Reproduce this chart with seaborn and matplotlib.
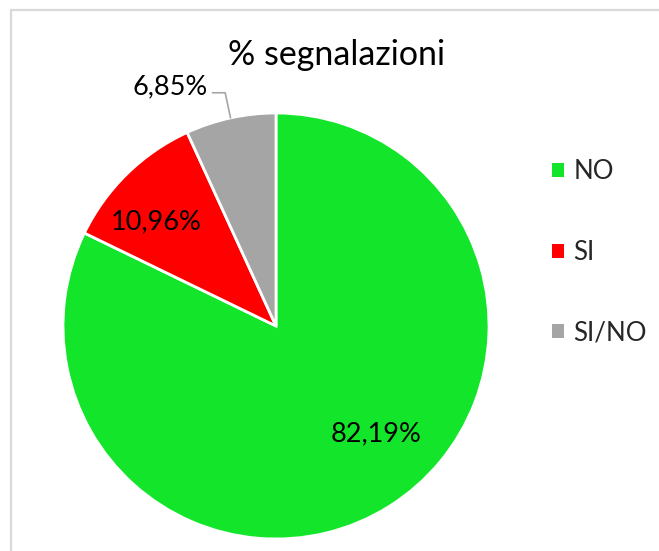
import numpy as np
import matplotlib
matplotlib.use("Agg")
import matplotlib.pyplot as plt
import matplotlib.patches as mpatches
from matplotlib.lines import Line2D
import seaborn as sns

categories = ["NO", "SI", "SI/NO"]
values = [82.19, 10.96, 6.85]
value_labels = ["82,19%", "10,96%", "6,85%"]
colors = ["#12E52A", "#FF0000", "#A5A5A5"]
title = "% segnalazioni"

sns.set_theme(style="white")
plt.rcParams["font.family"] = ["Lato", "DejaVu Sans"]

W, H = 659, 551
fig = plt.figure(figsize=(W / 100, H / 100), dpi=100)
fig.patch.set_facecolor("white")

# chart-area frame (top and left edges visible)
fig.add_artist(Line2D([11 / W, 11 / W], [0, 1 - 10 / H], transform=fig.transFigure,
                      color="#D9D9D9", lw=1.6))
fig.add_artist(Line2D([11 / W, 1], [1 - 10 / H, 1 - 10 / H], transform=fig.transFigure,
                      color="#D9D9D9", lw=1.6))

# pie axes: center (276, 326) px, radius 213 px
cx, cy, r = 276, 326, 213
ax = fig.add_axes([(cx - r) / W, (H - cy - r) / H, 2 * r / W, 2 * r / H])
wedges, _ = ax.pie(values, colors=colors, startangle=90, counterclock=False,
                   radius=1.0, wedgeprops=dict(edgecolor="white", linewidth=2))
ax.set_xlim(-1, 1)
ax.set_ylim(-1, 1)
ax.set_aspect("equal")
ax.axis("off")

# data labels
label_fs = 19.5
ax.text(np.cos(np.radians(-47)) * 0.69, np.sin(np.radians(-47)) * 0.69, value_labels[0],
        ha="center", va="center", fontsize=label_fs, color="black")
ax.text(np.cos(np.radians(139)) * 0.745, np.sin(np.radians(139)) * 0.745, value_labels[1],
        ha="center", va="center", fontsize=label_fs, color="black")

# outside label with leader line for the small slice
w = wedges[2]
mid = np.radians((w.theta1 + w.theta2) / 2)
p0 = (np.cos(mid) * 1.0, np.sin(mid) * 1.0)
p1 = (p0[0] - 0.025, 1.095)
p2 = (p1[0] - 0.06, 1.095)
ax.plot([p0[0], p1[0], p2[0]], [p0[1], p1[1], p2[1]], color="#A6A6A6", lw=1.2,
        clip_on=False)
ax.text(p2[0] - 0.02, 1.125, value_labels[2], ha="right", va="center",
        fontsize=label_fs, color="black")

# title
fig.text(337 / W, 1 - 55 / H, title, ha="center", va="center", fontsize=24.5, color="black")

# legend
handles = [mpatches.Patch(facecolor=c, edgecolor="none") for c in colors]
fig.legend(handles, categories, loc="upper left", bbox_to_anchor=(542 / W, 1 - 149 / H),
           frameon=False, fontsize=18.6, handlelength=0.47, handleheight=0.47,
           handletextpad=0.35, labelspacing=2.15, borderaxespad=0)

fig.savefig("out.png", dpi=100, facecolor="white")
